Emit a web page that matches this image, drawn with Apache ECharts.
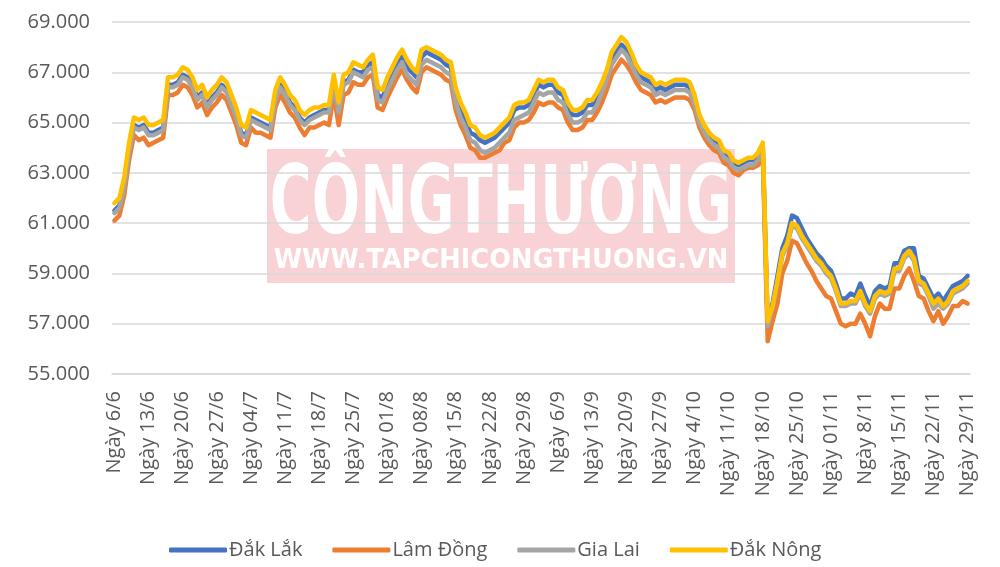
<!DOCTYPE html>
<html>
<head>
<meta charset="utf-8">
<title>Giá cà phê</title>
<script src="https://cdn.jsdelivr.net/npm/echarts@6/dist/echarts.min.js"></script>
<style>
  html, body { margin: 0; padding: 0; background: #fff; }
  #chart { width: 1000px; height: 567px; }
</style>
</head>
<body>
<div id="chart"></div>
<script>
// --- Data (one line per week, last value = 29/11) ---
var TICK_LABELS = [
  'Ngày 6/6', 'Ngày 13/6', 'Ngày 20/6', 'Ngày 27/6', 'Ngày 04/7', 'Ngày 11/7',
  'Ngày 18/7', 'Ngày 25/7', 'Ngày 01/8', 'Ngày 08/8', 'Ngày 15/8', 'Ngày 22/8',
  'Ngày 29/8', 'Ngày 6/9', 'Ngày 13/9', 'Ngày 20/9', 'Ngày 27/9', 'Ngày 4/10',
  'Ngày 11/10', 'Ngày 18/10', 'Ngày 25/10', 'Ngày 01/11', 'Ngày 8/11',
  'Ngày 15/11', 'Ngày 22/11', 'Ngày 29/11'
];
var DAYS_PER_TICK = 7;

var SERIES_NAMES = ['Đắk Lắk', 'Lâm Đồng', 'Gia Lai', 'Đắk Nông'];
var SERIES_COLORS = ['#4472C4', '#ED7D31', '#A5A5A5', '#FFC000'];

var dakLak = [
  61500, 61700, 62500, 63900, 64900, 64800, 64900,
  64600, 64600, 64700, 64800, 66500, 66500, 66600,
  66900, 66800, 66500, 66000, 66200, 65700, 66000,
  66200, 66500, 66300, 65800, 65300, 64600, 64500,
  65200, 65100, 65000, 64900, 64800, 66000, 66500,
  66200, 65800, 65600, 65200, 65000, 65200, 65300,
  65400, 65500, 65500, 66600, 65500, 66600, 66700,
  67100, 67000, 67000, 67300, 67400, 66100, 66000,
  66500, 66900, 67300, 67600, 67200, 67000, 66800,
  67600, 67800, 67700, 67600, 67500, 67300, 67200,
  66100, 65500, 65100, 64600, 64500, 64300, 64200,
  64300, 64400, 64600, 64800, 65000, 65500, 65600,
  65600, 65700, 66100, 66500, 66400, 66500, 66500,
  66200, 66100, 65600, 65300, 65300, 65400, 65700,
  65700, 66000, 66400, 66900, 67500, 67800, 68100,
  67900, 67500, 67100, 66800, 66700, 66600, 66300,
  66400, 66300, 66400, 66500, 66500, 66500, 66400,
  65900, 65200, 64800, 64500, 64300, 64200, 63800,
  63700, 63400, 63300, 63400, 63500, 63500, 63700,
  64000, 57000, 57800, 58900, 60000, 60500, 61300,
  61200, 60800, 60400, 60100, 59800, 59600, 59300,
  59100, 58600, 58000, 58000, 58200, 58100, 58600,
  58100, 57700, 58300, 58500, 58400, 58500, 59400,
  59400, 59900, 60000, 60000, 58900, 58800, 58400,
  58000, 58200, 57900, 58200, 58500, 58600, 58700,
  58900
];

var lamDong = [
  61100, 61300, 62100, 63500, 64500, 64300, 64400,
  64100, 64200, 64300, 64400, 66100, 66100, 66200,
  66500, 66400, 66100, 65600, 65800, 65300, 65600,
  65800, 66100, 65900, 65400, 64900, 64200, 64100,
  64800, 64600, 64600, 64500, 64400, 65600, 66100,
  65800, 65400, 65200, 64800, 64500, 64800, 64800,
  64900, 65000, 64900, 66100, 64900, 66100, 66200,
  66600, 66500, 66500, 66800, 66900, 65600, 65500,
  66000, 66400, 66800, 67100, 66700, 66400, 66200,
  67000, 67200, 67100, 67000, 66900, 66700, 66600,
  65500, 64900, 64500, 64000, 63900, 63600, 63600,
  63700, 63800, 63900, 64200, 64300, 64800, 65000,
  65000, 65100, 65400, 65800, 65700, 65800, 65800,
  65600, 65500, 65000, 64700, 64700, 64800, 65100,
  65100, 65400, 65800, 66300, 66900, 67200, 67500,
  67300, 67000, 66600, 66300, 66200, 66100, 65800,
  65900, 65800, 65900, 66000, 66000, 66000, 65900,
  65500, 64800, 64400, 64100, 63900, 63800, 63400,
  63300, 63000, 62900, 63100, 63200, 63200, 63300,
  63600, 56300, 57100, 57800, 59000, 59500, 60300,
  60200, 59800, 59400, 59100, 58700, 58400, 58100,
  58000, 57500, 57000, 56900, 57000, 57000, 57400,
  57000, 56500, 57300, 57800, 57600, 57600, 58400,
  58400, 58900, 59200, 58700, 58100, 58000, 57500,
  57100, 57500, 57000, 57300, 57700, 57700, 57900,
  57800
];

var giaLai = [
  61400, 61600, 62400, 63800, 64800, 64700, 64800,
  64500, 64500, 64600, 64700, 66400, 66400, 66500,
  66800, 66700, 66400, 65900, 66100, 65600, 65900,
  66100, 66400, 66200, 65700, 65200, 64500, 64400,
  65100, 65000, 64900, 64800, 64700, 65900, 66400,
  66100, 65700, 65500, 65100, 64900, 65100, 65200,
  65300, 65400, 65400, 66500, 65400, 66500, 66600,
  67000, 66900, 66800, 67100, 67200, 65900, 65800,
  66300, 66700, 67100, 67400, 66900, 66700, 66500,
  67300, 67500, 67400, 67300, 67200, 67000, 66900,
  65800, 65200, 64800, 64300, 64200, 63900, 63800,
  63900, 64000, 64200, 64400, 64600, 65100, 65200,
  65300, 65400, 65800, 66200, 66100, 66200, 66200,
  65900, 65800, 65300, 65000, 65000, 65100, 65400,
  65400, 65700, 66200, 66700, 67300, 67600, 67900,
  67700, 67300, 66900, 66600, 66500, 66400, 66100,
  66200, 66100, 66200, 66300, 66300, 66300, 66200,
  65700, 65000, 64600, 64300, 64100, 64000, 63600,
  63500, 63200, 63100, 63200, 63300, 63300, 63500,
  63900, 56900, 57600, 58600, 59700, 60100, 60900,
  60800, 60400, 60100, 59800, 59500, 59300, 59000,
  58800, 58300, 57700, 57700, 57800, 57800, 58200,
  57700, 57400, 58000, 58200, 58100, 58200, 59100,
  59100, 59600, 59800, 59500, 58600, 58500, 58100,
  57600, 57800, 57600, 57800, 58200, 58300, 58400,
  58600
];

var dakNong = [
  61800, 62000, 62800, 64200, 65200, 65100, 65200,
  64900, 64900, 65000, 65100, 66800, 66800, 66900,
  67200, 67100, 66800, 66300, 66500, 66000, 66300,
  66500, 66800, 66600, 66100, 65600, 64900, 64800,
  65500, 65400, 65300, 65200, 65100, 66300, 66800,
  66500, 66100, 65900, 65500, 65300, 65500, 65600,
  65600, 65700, 65700, 66900, 65800, 66900, 67000,
  67400, 67300, 67200, 67500, 67700, 66400, 66300,
  66800, 67200, 67600, 67900, 67500, 67200, 67000,
  67900, 68000, 67900, 67800, 67700, 67500, 67400,
  66400, 65800, 65400, 64900, 64800, 64500, 64400,
  64500, 64600, 64800, 65000, 65200, 65700, 65800,
  65800, 65900, 66300, 66700, 66600, 66700, 66700,
  66400, 66300, 65800, 65500, 65500, 65600, 65900,
  65900, 66200, 66600, 67100, 67800, 68100, 68400,
  68200, 67800, 67300, 67000, 66900, 66800, 66500,
  66600, 66500, 66600, 66700, 66700, 66700, 66600,
  66100, 65300, 64900, 64600, 64400, 64300, 63900,
  63800, 63500, 63400, 63500, 63600, 63600, 63800,
  64200, 57100, 57700, 58700, 59800, 60200, 61000,
  60900, 60500, 60200, 59900, 59600, 59400, 59100,
  58900, 58400, 57800, 57800, 57900, 57900, 58300,
  57800, 57500, 58100, 58300, 58200, 58300, 59200,
  59200, 59700, 59900, 59600, 58700, 58600, 58200,
  57800, 58000, 57700, 57900, 58300, 58400, 58500,
  58700
];

var Y_MIN = 55000, Y_MAX = 69000, Y_STEP = 2000;

// --- Category axis: one slot per day, a label on every 7th ---
function buildCategories(n) {
  var cats = [];
  for (var i = 0; i < n; i++) {
    cats.push(i % DAYS_PER_TICK === 0 ? TICK_LABELS[i / DAYS_PER_TICK] : '');
  }
  return cats;
}

function fmtThousands(v) {
  return (v / 1000).toFixed(3); // 69000 -> "69.000"
}

var FONT = '"Open Sans", "Noto Sans", sans-serif';
var LABEL_COLOR = '#595959';
var GRID_COLOR = '#D9D9D9';

var chart = echarts.init(document.getElementById('chart'), null, { renderer: 'canvas' });

var allData = [dakLak, lamDong, giaLai, dakNong];
var series = SERIES_NAMES.map(function(name, k) {
  return {
    name: name,
    type: 'line',
    data: allData[k],
    symbol: 'none',
    smooth: false,
    z: 2 + k,
    lineStyle: { width: 4.5, color: SERIES_COLORS[k], cap: 'round', join: 'round' },
    itemStyle: { color: SERIES_COLORS[k] }
  };
});

var option = {
  animation: false,
  backgroundColor: '#FFFFFF',
  textStyle: { fontFamily: FONT },
  grid: { left: 112, right: 30, top: 22, bottom: 193, containLabel: false },
  legend: {
    data: SERIES_NAMES,
    left: 164,
    top: 535,
    icon: 'roundRect',
    itemWidth: 58,
    itemHeight: 5,
    itemGap: 30,
    textStyle: { fontSize: 20, color: LABEL_COLOR, fontFamily: FONT, padding: [0, 0, 0, -3] }
  },
  xAxis: {
    type: 'category',
    boundaryGap: true,
    data: buildCategories(dakNong.length),
    axisLine: { show: true, lineStyle: { color: GRID_COLOR, width: 1.5 } },
    axisTick: { show: false },
    axisLabel: {
      interval: DAYS_PER_TICK - 1,
      rotate: 90,
      margin: 17,
      fontSize: 20,
      color: LABEL_COLOR,
      fontFamily: FONT
    },
    splitLine: { show: false }
  },
  yAxis: {
    type: 'value',
    min: Y_MIN,
    max: Y_MAX,
    interval: Y_STEP,
    axisLine: { show: false },
    axisTick: { show: false },
    axisLabel: {
      formatter: fmtThousands,
      fontSize: 20,
      margin: 22,
      color: LABEL_COLOR,
      fontFamily: FONT
    },
    splitLine: { lineStyle: { color: GRID_COLOR, width: 1.5 } }
  },
  // watermark of the source magazine, sits under the grid lines
  graphic: [
    {
      type: 'rect',
      z: -1,
      shape: { x: 267, y: 149, width: 468, height: 134 },
      style: { fill: '#F8D2D5' },
      silent: true
    },
    {
      type: 'text',
      z: -1,
      x: 501,
      y: 208,
      scaleX: 0.6,
      silent: true,
      style: {
        text: 'CÔNGTHƯƠNG',
        fill: '#FFFFFF',
        font: 'bold 95px "DejaVu Sans"',
        align: 'center',
        verticalAlign: 'middle'
      }
    },
    {
      type: 'text',
      z: -1,
      x: 501,
      y: 261,
      scaleX: 0.95,
      silent: true,
      style: {
        text: 'WWW.TAPCHICONGTHUONG.VN',
        fill: '#FFFFFF',
        font: 'bold 27px "DejaVu Sans"',
        align: 'center',
        verticalAlign: 'middle'
      }
    }
  ],
  series: series
};

chart.setOption(option);
</script>
</body>
</html>
